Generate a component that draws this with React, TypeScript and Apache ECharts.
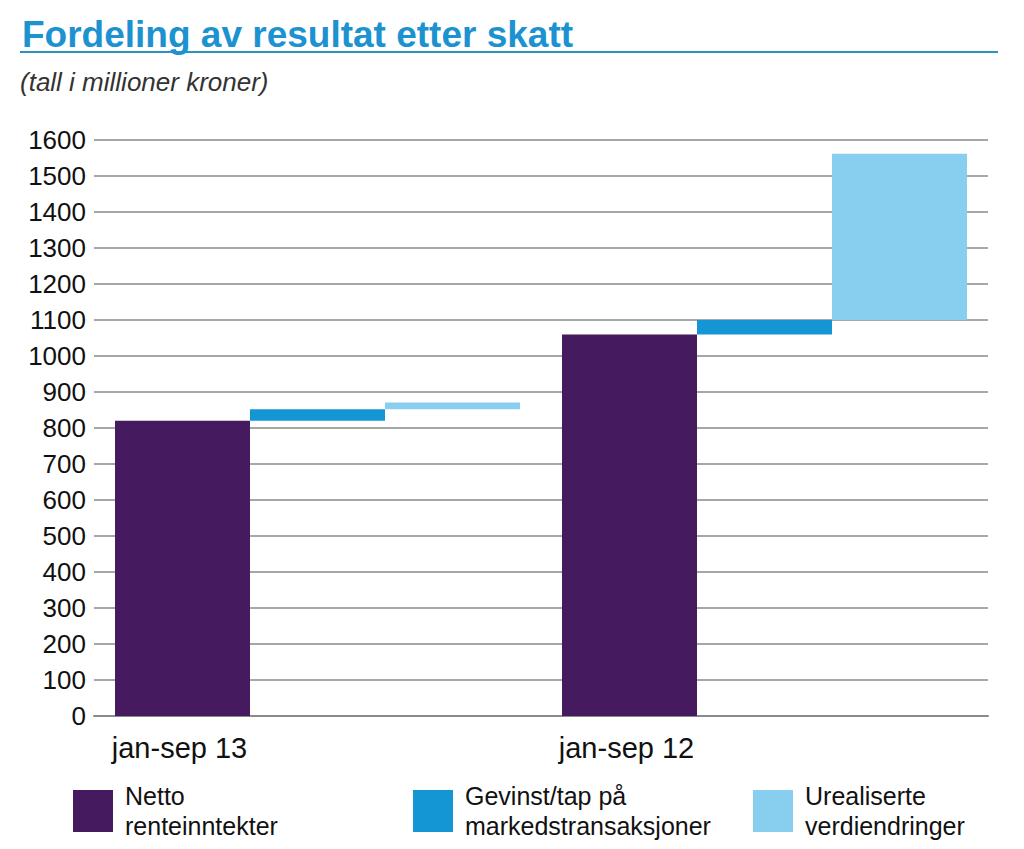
import React, { useEffect, useRef } from "react";
import * as echarts from "echarts";

const categories = ["jan-sep 13", "jan-sep 12"];
const seriesNames = [
  "Netto renteinntekter",
  "Gevinst/tap på markedstransaksjoner",
  "Urealiserte verdiendringer",
];
const legendLabels = [
  "Netto\nrenteinntekter",
  "Gevinst/tap på\nmarkedstransaksjoner",
  "Urealiserte\nverdiendringer",
];
const netto = [820, 1060];
const gevinst = [32, 40];
const urealiserte = [19, 462];
const yTicks = [0, 100, 200, 300, 400, 500, 600, 700, 800, 900, 1000, 1100, 1200, 1300, 1400, 1500, 1600];

const colors = ["#461a5e", "#1496d4", "#87ceef"];
const FONT = "Liberation Sans, Arial, Helvetica, sans-serif";

export default function App() {
  const ref = useRef<HTMLDivElement>(null);
  useEffect(() => {
    document.body.style.margin = "0";
    const chart = echarts.init(ref.current!, null, { renderer: "svg" });
    const gevinstBase = netto.map((v) => v);
    const urealBase = netto.map((v, i) => v + gevinst[i]);
    const barW = 135;
    const legendLefts = [73, 413, 753];
    const option: any = {
      animation: false,
      backgroundColor: "#ffffff",
      textStyle: { fontFamily: FONT },
      title: [
        {
          text: "Fordeling av resultat etter skatt",
          left: 17,
          top: 11,
          padding: [5, 5, 5, 5],
          textStyle: { fontFamily: FONT, fontSize: 37, fontWeight: "bold", color: "#1c92d0" },
        },
        {
          text: "(tall i millioner kroner)",
          left: 15,
          top: 64,
          textStyle: { fontFamily: FONT, fontSize: 26, fontStyle: "italic", fontWeight: "normal", color: "#333" },
        },
      ],
      graphic: [
        {
          type: "line",
          shape: { x1: 20, y1: 52, x2: 998, y2: 52 },
          style: { stroke: "#2a93bf", lineWidth: 2 },
        },
      ],
      legend: seriesNames.map((n, i) => ({
        data: [n],
        left: legendLefts[i],
        top: 781,
        padding: 0,
        orient: "horizontal",
        itemWidth: 40,
        itemHeight: 42,
        icon: "rect",
        selectedMode: false,
        formatter: () => legendLabels[i],
        textStyle: {
          fontFamily: FONT,
          fontSize: 25,
          lineHeight: 30,
          color: "#111",
          padding: [0, 0, 0, 7],
        },
      })),
      grid: { left: 94, right: 36, top: 140, bottom: 133, containLabel: false },
      xAxis: {
        type: "category",
        data: categories,
        axisTick: { show: false },
        axisLine: { show: true, lineStyle: { color: "#8a8a8a", width: 2 } },
        axisLabel: {
          fontFamily: FONT,
          fontSize: 29,
          color: "#111",
          margin: 17,
          padding: [0, 276, 0, 0],
        },
      },
      yAxis: {
        type: "value",
        min: 0,
        max: 1600,
        interval: 100,
        axisLine: { show: false },
        axisTick: { show: false },
        axisLabel: {
          fontFamily: FONT,
          fontSize: 26,
          color: "#111",
          margin: 8,
          formatter: (v: number) => (yTicks.includes(v) ? String(v) : ""),
        },
        splitLine: { lineStyle: { color: "#8a8a8a", width: 1.5 } },
      },
      series: [
        {
          name: seriesNames[0],
          type: "bar",
          stack: "a",
          barWidth: barW,
          barGap: "0%",
          data: netto,
          itemStyle: { color: colors[0] },
        },
        {
          name: "base-g",
          type: "bar",
          stack: "b",
          barWidth: barW,
          barGap: "0%",
          data: gevinstBase,
          itemStyle: { color: "transparent" },
          emphasis: { disabled: true },
          silent: true,
        },
        {
          name: seriesNames[1],
          type: "bar",
          stack: "b",
          barWidth: barW,
          barGap: "0%",
          data: gevinst,
          itemStyle: { color: colors[1] },
        },
        {
          name: "base-u",
          type: "bar",
          stack: "c",
          barWidth: barW,
          barGap: "0%",
          data: urealBase,
          itemStyle: { color: "transparent" },
          emphasis: { disabled: true },
          silent: true,
        },
        {
          name: seriesNames[2],
          type: "bar",
          stack: "c",
          barWidth: barW,
          barGap: "0%",
          data: urealiserte,
          itemStyle: { color: colors[2] },
        },
      ],
    };
    chart.setOption(option);
    return () => chart.dispose();
  }, []);
  return <div ref={ref} style={{ width: 1024, height: 849 }} />;
}
